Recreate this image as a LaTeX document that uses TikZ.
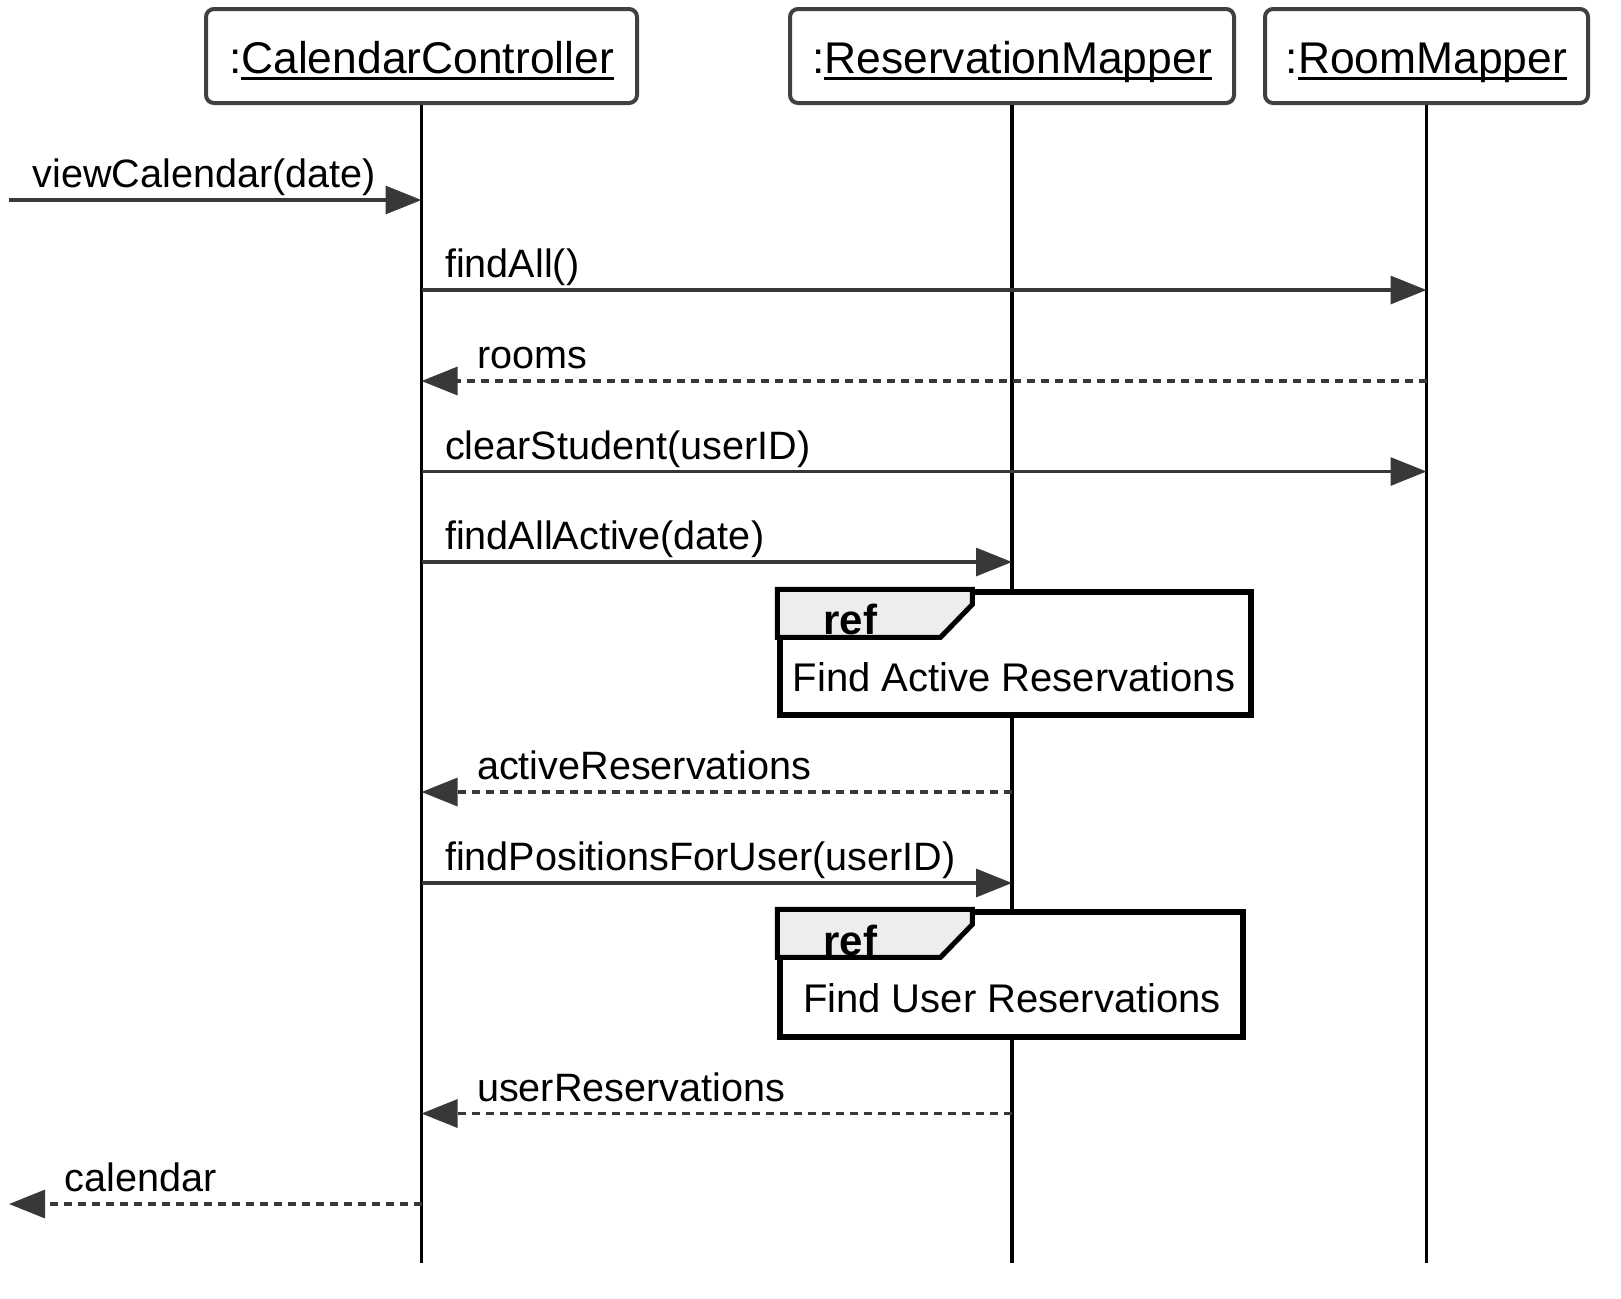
\documentclass[tikz,border=0pt]{standalone}
\usepackage{fontspec}
\setmainfont{Liberation Sans}
\usetikzlibrary{arrows.meta}
\newcommand{\objname}[1]{\setbox0\hbox{#1}\rlap{\rule[-3.5pt]{\wd0}{1.7pt}}\box0}

\begin{document}
\begin{tikzpicture}[x=0.5pt, y=-0.5pt]
	\tikzset{head/.style={draw=black!75, line width=2pt, rounded corners=4pt, minimum height=47pt, inner sep=0pt, fill=white,
			text height=18pt, text depth=1pt, font=\fontsize{22.2}{26}\selectfont},
		life/.style={line width=1.6pt},
		call/.style={draw=black!78, line width=1.6pt, -{Triangle[length=18pt,width=14pt]}},
		reply/.style={call, dash pattern=on 4pt off 3pt},
		lbl/.style={anchor=base west, inner sep=0pt, yshift=6.25pt, font=\fontsize{19.8}{23}\selectfont},
		refbox/.style={draw=black, line width=2.6pt, fill=white, inner sep=0pt},
		reftab/.style={draw=black, line width=2.5pt, fill=black!7},
		reflbl/.style={anchor=base west, inner sep=0pt, font=\bfseries\fontsize{21}{25}\selectfont},
		reftext/.style={anchor=base, inner sep=0pt, font=\fontsize{20}{24}\selectfont}}
	\useasboundingbox (0,0) rectangle (1621,1298);
	
	%Objekte
	\node[head, minimum width=215.5pt] (cc)  at (421.5,56)  {:\objname{CalendarController}};
	\node[head, minimum width=222pt]   (rsm) at (1012,56)   {:\objname{ReservationMapper}};
	\node[head, minimum width=161.5pt] (rm)  at (1426.5,56) {:\objname{RoomMapper}};
	
	%Lebenslinien
	\coordinate (bottom) at (0,1263);
	\draw[life] (cc)  -- (cc |- bottom);
	\draw[life] (rsm) -- (rsm |- bottom);
	\draw[life] (rm)  -- (rm |- bottom);
	
	%Nachrichten
	\coordinate (in)  at (9,200);
	\coordinate (m2)  at (0,290);
	\coordinate (m3)  at (0,381);
	\coordinate (m4)  at (0,471.5);
	\coordinate (m5)  at (0,562);
	\coordinate (m6)  at (0,792);
	\coordinate (m7)  at (0,883);
	\coordinate (m8)  at (0,1113.5);
	\coordinate (out) at (9,1204);
	
	\draw[call]  (in) -- (cc |- in)        node[lbl, at start, xshift=11pt] (lview)   {viewCalendar(date)};
	\draw[call]  (cc |- m2) -- (rm |- m2)  node[lbl, at start, xshift=11pt] (lall)    {findAll()};
	\draw[reply] (rm |- m3) -- (cc |- m3)  node[lbl, at end, xshift=27pt]   (lrooms)  {rooms};
	\draw[call]  (cc |- m4) -- (rm |- m4)  node[lbl, at start, xshift=11pt] (lclear)  {clearStudent(userID)};
	\draw[call]  (cc |- m5) -- (rsm |- m5) node[lbl, at start, xshift=11pt] (lactive) {findAllActive(date)};
	\draw[reply] (rsm |- m6) -- (cc |- m6) node[lbl, at end, xshift=27pt]   (lares)   {activeReservations};
	\draw[call]  (cc |- m7) -- (rsm |- m7) node[lbl, at start, xshift=11pt] (lpos)    {findPositionsForUser(userID)};
	\draw[reply] (rsm |- m8) -- (cc |- m8) node[lbl, at end, xshift=27pt]   (lures)   {userReservations};
	\draw[reply] (cc |- out) -- (out)      node[lbl, at end, xshift=27pt]   (lcal)    {calendar};
	
	%Referenzen
	\node[refbox, minimum width=235.5pt, minimum height=61.5pt] (refa) at (1015.5,653.5) {};
	\draw[reftab] (refa.north west) -- ++(195,0) -- ++(0,15) -- ++(-32,33) -- ++(-163,0) -- cycle;
	\node[reflbl]  (rla) at (823,634)  {ref};
	\node[reftext] (rta) at (1014,691) {Find Active Reservations};
	
	\node[refbox, minimum width=231.5pt, minimum height=62.5pt] (refb) at (1011.5,974.5) {};
	\draw[reftab] (refb.north west) -- ++(195,0) -- ++(0,15) -- ++(-32,33) -- ++(-163,0) -- cycle;
	\node[reflbl]  (rlb) at (823,955)  {ref};
	\node[reftext] (rtb) at (1012,1012) {Find User Reservations};
	
\end{tikzpicture}
\end{document}
